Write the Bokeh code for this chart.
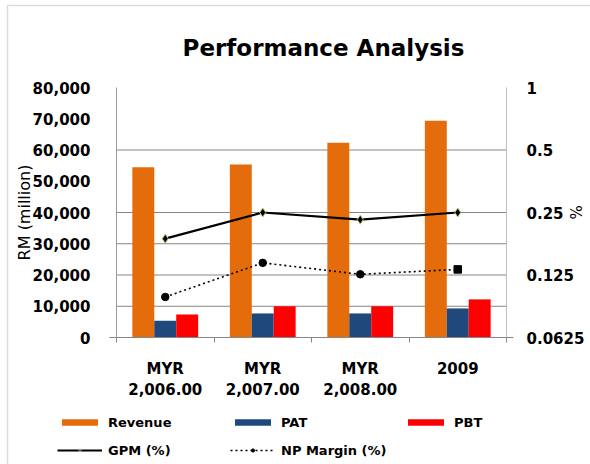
import math
from bokeh.plotting import figure
from bokeh.models import (ColumnDataSource, Range1d, LinearAxis, LogAxis, LogScale,
                          FixedTicker, NumeralTickFormatter, CustomJSTickFormatter,
                          Legend, LegendItem, Label, BoxAnnotation)
from bokeh.transform import dodge
from bokeh.embed import file_html
from bokeh.resources import INLINE

# ---- data ----
categories = ["MYR\n2,006.00", "MYR\n2,007.00", "MYR\n2,008.00", "2009"]
revenue = [54500, 55400, 62300, 69400]
pat = [5400, 7700, 7700, 9300]
pbt = [7400, 10000, 10000, 12200]
gpm = [0.187, 0.25, 0.231, 0.25]
np_margin = [0.098, 0.143, 0.126, 0.133]
left_ticks = [0, 10000, 20000, 30000, 40000, 50000, 60000, 70000, 80000]
right_ticks = [0.0625, 0.125, 0.25, 0.5, 1]
grid_ticks = [10000, 20000, 30000, 40000, 60000]

# ---- layout (pixels) ----
W, H = 590, 464
F_LEFT, F_RIGHT, F_TOP, F_BOTTOM = 116, 506, 87, 337
FONT = "DejaVu Sans"
C_REV, C_PAT, C_PBT = "#E46C0A", "#1F497D", "#FF0000"

n = len(categories)
y_lo, y_hi = left_ticks[0], left_ticks[-1]
r_lo, r_hi = right_ticks[0], right_ticks[-1]
xu = n / (F_RIGHT - F_LEFT)
yu = (y_hi - y_lo) / (F_BOTTOM - F_TOP)
ou = math.log2(r_hi / r_lo) / (F_BOTTOM - F_TOP)

x_range = Range1d(0 - F_LEFT * xu, n + (W - F_RIGHT) * xu)
y_range = Range1d(y_lo - (H - F_BOTTOM) * yu, y_hi + F_TOP * yu)
pct_range = Range1d(r_lo * 2 ** (-(H - F_BOTTOM) * ou), r_hi * 2 ** (F_TOP * ou))

pos = [i + 0.5 for i in range(n)]
np_shape = ["circle"] * (n - 1) + ["square"]
src = ColumnDataSource(dict(x=pos, revenue=revenue, pat=pat, pbt=pbt, gpm=gpm, npm=np_margin,
                            np_shape=np_shape))

p = figure(width=W, height=H, output_backend="svg", toolbar_location=None,
           x_range=x_range, y_range=y_range, x_axis_type=None, y_axis_type=None,
           min_border=0, min_border_left=0, min_border_right=0,
           min_border_top=0, min_border_bottom=0)
p.extra_y_ranges = {"pct": pct_range}
p.extra_y_scales = {"pct": LogScale()}
p.outline_line_color = None
p.background_fill_color = "white"
p.border_fill_color = "white"
p.xgrid.visible = False
p.ygrid.visible = False

# chart border (left and top edges visible)
p.add_layout(BoxAnnotation(left=7, right=W + 10, top=H - 5, bottom=-10,
                           left_units="screen", right_units="screen",
                           top_units="screen", bottom_units="screen",
                           fill_alpha=0, line_color="#8a8a8a", line_width=1.5))

# title
p.add_layout(Label(x=323, y=H - 47, x_units="screen", y_units="screen", text="Performance Analysis",
                   text_font=FONT, text_font_size="23px", text_font_style="bold",
                   text_color="black", text_align="center", text_baseline="middle"))

# gridlines (behind bars)
gsrc = ColumnDataSource(dict(g=grid_ticks))
p.segment(x0=0, x1=n, y0="g", y1="g", source=gsrc, line_color="#868686", line_width=1)

# left axis
la = LinearAxis(ticker=FixedTicker(ticks=left_ticks), formatter=NumeralTickFormatter(format="0,0"),
                axis_label="RM (million)", fixed_location=0, bounds=(y_lo, y_hi))
la.axis_line_color = "#9a9a9a"
la.major_tick_line_color = None
la.minor_tick_line_color = None
la.major_label_standoff = 20
la.major_label_text_font = FONT
la.major_label_text_font_size = "15px"
la.major_label_text_font_style = "bold"
la.major_label_text_color = "black"
la.axis_label_text_font = FONT
la.axis_label_text_font_size = "16px"
la.axis_label_text_font_style = "normal"
la.axis_label_text_color = "black"
la.axis_label_standoff = -4
p.add_layout(la, "left")

# right axis (log)
ra = LogAxis(y_range_name="pct", ticker=FixedTicker(ticks=right_ticks),
             formatter=CustomJSTickFormatter(code="return tick.toString()"),
             axis_label="%", fixed_location=n, bounds=(r_lo, r_hi))
ra.axis_line_color = "#bfbfbf"
ra.major_tick_line_color = None
ra.minor_tick_line_color = None
ra.major_label_standoff = 14
ra.major_label_text_font = FONT
ra.major_label_text_font_size = "15px"
ra.major_label_text_font_style = "bold"
ra.major_label_text_color = "black"
ra.axis_label_text_font = FONT
ra.axis_label_text_font_size = "15px"
ra.axis_label_text_font_style = "normal"
ra.axis_label_text_color = "black"
ra.axis_label_standoff = -21
p.add_layout(ra, "right")

# bottom axis
ba = LinearAxis(ticker=FixedTicker(ticks=pos, minor_ticks=list(range(n + 1))),
                major_label_overrides={x: c for x, c in zip(pos, categories)},
                fixed_location=y_lo, bounds=(0 - 7 * xu, n + 7 * xu))
ba.axis_line_color = "#868686"
ba.major_tick_line_color = None
ba.minor_tick_line_color = "#868686"
ba.minor_tick_out = 5
ba.minor_tick_in = 0
ba.major_label_standoff = 16
ba.major_label_text_font = FONT
ba.major_label_text_font_size = "15px"
ba.major_label_text_font_style = "bold"
ba.major_label_text_color = "black"
ba.major_label_text_line_height = 1.2
p.add_layout(ba, "below")

bw = 0.225
r_rev = p.vbar(x=dodge("x", -0.225), top="revenue", bottom=y_lo, width=bw, source=src,
               color=C_REV, line_width=0)
r_pat = p.vbar(x=dodge("x", 0.0), top="pat", bottom=y_lo, width=bw, source=src,
               color=C_PAT, line_width=0)
r_pbt = p.vbar(x=dodge("x", 0.225), top="pbt", bottom=y_lo, width=bw, source=src,
               color=C_PBT, line_width=0)

l_gpm = p.line("x", "gpm", source=src, y_range_name="pct", line_color="black", line_width=2.2)
m_gpm = p.scatter("x", "gpm", source=src, y_range_name="pct", marker="diamond", size=9,
                  fill_color="black", line_color="#b5c97a", line_width=1)
l_np = p.line("x", "npm", source=src, y_range_name="pct", line_color="black", line_width=1.6,
              line_dash="2 3")
m_np = p.scatter("x", "npm", source=src, y_range_name="pct", marker="np_shape", size=7.5,
                 fill_color="black", line_color="black")

legend = Legend(items=[
    LegendItem(label="Revenue", renderers=[r_rev]),
    LegendItem(label="PAT", renderers=[r_pat]),
    LegendItem(label="PBT", renderers=[r_pbt]),
    LegendItem(label="GPM (%)", renderers=[l_gpm, m_gpm]),
    LegendItem(label="NP Margin (%)", renderers=[l_np, m_np], index=0),
], orientation="horizontal", ncols=3, location=(57, 5))
legend.glyph_width = 45
legend.glyph_height = 8
legend.label_standoff = 6
legend.label_width = 112
legend.label_height = 18
legend.spacing = 10
legend.padding = 0
legend.margin = 0
legend.border_line_color = None
legend.background_fill_alpha = 0
legend.label_text_font = FONT
legend.label_text_font_size = "13px"
legend.label_text_font_style = "bold"
legend.label_text_color = "black"
p.add_layout(legend, "center")

open("out.html", "w").write(file_html(p, INLINE))
